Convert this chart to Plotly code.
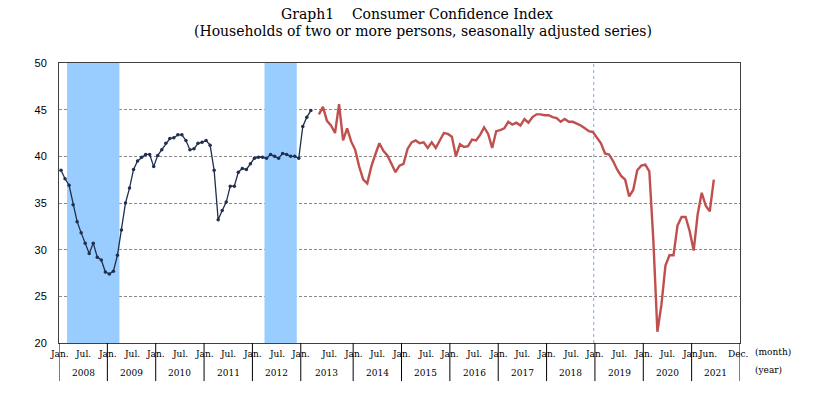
import plotly.graph_objects as go

# ---------------- data ----------------
years = list(range(2008, 2022))
old_start = (2008, 1)   # old survey method: Jan 2008 - Mar 2013
old_values = [
    38.5, 37.6, 36.9, 34.8, 33.0, 31.8, 30.7, 29.6, 30.7, 29.2, 28.9, 27.6,   # 2008
    27.4, 27.7, 29.4, 32.1, 35.0, 36.6, 38.6, 39.5, 39.9, 40.2, 40.2, 38.9,   # 2009
    40.1, 40.7, 41.4, 41.9, 42.0, 42.3, 42.3, 41.7, 40.7, 40.8, 41.4, 41.5,   # 2010
    41.7, 41.2, 38.5, 33.2, 34.2, 35.1, 36.8, 36.8, 38.3, 38.7, 38.6, 39.2,   # 2011
    39.8, 39.9, 39.9, 39.8, 40.2, 40.0, 39.8, 40.3, 40.2, 40.0, 40.0, 39.8,   # 2012
    43.2, 44.2, 44.9,                                                         # 2013
]
new_start = (2013, 4)   # new survey method: Apr 2013 - Jun 2021
new_values = [
    44.5, 45.3, 43.8, 43.3, 42.5, 45.6, 41.7, 43.0, 41.6,                     # 2013
    40.7, 38.9, 37.5, 37.1, 38.9, 40.2, 41.4, 40.6, 40.1, 39.2, 38.3, 39.0,   # 2014
    39.2, 40.8, 41.5, 41.7, 41.4, 41.5, 40.9, 41.5, 40.9, 41.7, 42.5, 42.4,   # 2015
    42.1, 40.0, 41.3, 41.0, 41.1, 41.8, 41.7, 42.3, 43.1, 42.4, 40.9, 42.7,   # 2016
    42.8, 43.0, 43.7, 43.4, 43.6, 43.3, 44.0, 43.6, 44.2, 44.5, 44.5, 44.4,   # 2017
    44.4, 44.2, 44.1, 43.7, 44.0, 43.7, 43.7, 43.5, 43.3, 43.0, 42.7, 42.6,   # 2018
    42.0, 41.4, 40.3, 40.2, 39.5, 38.6, 37.9, 37.5, 35.7, 36.4, 38.5, 39.0,   # 2019
    39.1, 38.4, 31.0, 21.2, 24.1, 28.3, 29.4, 29.4, 32.6, 33.5, 33.5, 32.0,   # 2020
    29.9, 33.8, 36.1, 34.7, 34.1, 37.5,                                       # 2021
]
recessions = [((2008, 3), (2009, 3)), ((2012, 4), (2012, 11))]
peak_line = (2018, 12)
month_labels = ["Jan.", "Jul."]
last_year_labels = ["Jan.", "Jun.", "Dec."]
title_1 = "Graph1" + "\u00a0" * 4 + "Consumer Confidence Index"
title_2 = "(Households of two or more persons, seasonally adjusted series)"

# ---------------- slot positions (2013 has an extra blank slot) ----------------
def slot(y, m):
    s = (y - 2008) * 12 + (m - 1)
    if y > 2013 or (y == 2013 and m >= 4):
        s += 1
    return s

def months_from(start, n):
    y, m = start
    out = []
    for _ in range(n):
        out.append((y, m))
        m += 1
        if m > 12:
            m = 1
            y += 1
    return out

x_old = [slot(y, m) + 0.5 for y, m in months_from(old_start, len(old_values))]
x_new = [slot(y, m) + 0.5 for y, m in months_from(new_start, len(new_values))]

year_edges = [slot(y, 1) for y in years] + [slot(2021, 12) + 1]
XMAX = year_edges[-1]

fig = go.Figure()

fig.add_trace(go.Scatter(
    x=x_old, y=old_values, mode="lines+markers",
    line=dict(color="#1f2f4d", width=1.3),
    marker=dict(color="#1f2f4d", size=3.5),
    hoverinfo="y", showlegend=False,
))
fig.add_trace(go.Scatter(
    x=x_new, y=new_values, mode="lines",
    line=dict(color="#c0504d", width=2.4),
    hoverinfo="y", showlegend=False,
))

shapes = []
for (a, b) in recessions:
    shapes.append(dict(type="rect", xref="x", yref="y",
                       x0=slot(*a), x1=slot(*b) + 1, y0=20, y1=50,
                       fillcolor="#99ccff", line=dict(width=0), layer="between"))
px = slot(*peak_line) + 0.7
shapes.append(dict(type="line", xref="x", yref="y", x0=px, x1=px, y0=20, y1=50,
                   line=dict(color="#7fa9e0", width=1, dash="dot"), layer="between"))
for e in year_edges:
    shapes.append(dict(type="line", xref="x", yref="paper", x0=e, x1=e,
                       y0=0, y1=-0.136, line=dict(color="black", width=1)))

FONT = "DejaVu Serif"
LF = dict(size=9, family=FONT, color="black")
ann = []
for i, yr in enumerate(years):
    s, e = year_edges[i], year_edges[i + 1]
    ann.append(dict(x=(s + e) / 2, y=-0.107, xref="x", yref="paper", text=str(yr),
                    showarrow=False, font=LF, xanchor="center", yanchor="middle"))
    if yr < 2021:
        jul_x = slot(yr, 7)
        for lab, xx in zip(month_labels, [s, jul_x]):
            ann.append(dict(x=xx, y=-0.039, xref="x", yref="paper", text=lab,
                            showarrow=False, font=LF, xanchor="center", yanchor="middle"))
    else:
        for lab, xx in zip(last_year_labels, [s, s + 4.0, e - 0.35]):
            ann.append(dict(x=xx, y=-0.039, xref="x", yref="paper", text=lab,
                            showarrow=False, font=LF, xanchor="center", yanchor="middle"))

ann.append(dict(x=1.019, y=-0.032, xref="paper", yref="paper", text="(month)",
                showarrow=False, font=LF, xanchor="left", yanchor="middle"))
ann.append(dict(x=1.019, y=-0.096, xref="paper", yref="paper", text="(year)",
                showarrow=False, font=LF, xanchor="left", yanchor="middle"))
TF = dict(size=14, family=FONT, color="black")
ann.append(dict(x=0.3245, y=1.175, xref="paper", yref="paper", text=title_1,
                showarrow=False, font=TF, xanchor="left", yanchor="middle", borderpad=0))
ann.append(dict(x=0.1968, y=1.116, xref="paper", yref="paper", text=title_2,
                showarrow=False, font=TF, xanchor="left", yanchor="middle", borderpad=0))

fig.update_layout(
    width=819, height=396,
    margin=dict(l=59, r=79, t=63, b=53),
    paper_bgcolor="white", plot_bgcolor="white",
    shapes=shapes, annotations=ann,
    xaxis=dict(range=[0, XMAX], showgrid=False, zeroline=False, showticklabels=False,
               ticks="", showline=True, linecolor="#404040", linewidth=1, mirror=True,
               fixedrange=True),
    yaxis=dict(range=[20, 50], tickvals=[20, 25, 30, 35, 40, 45, 50], showgrid=True,
               gridcolor="#8a8a8a", griddash="3px,2px", gridwidth=1, zeroline=False,
               showline=True, linecolor="#404040", linewidth=1, mirror=True,
               ticks="", ticklen=0, ticklabelstandoff=9,
               tickfont=dict(size=11, family="Liberation Sans", color="black"),
               fixedrange=True),
    showlegend=False,
)

# remove the browser's default 8px body margin so the figure fills the window
fig.write_html("out.html", config={"displayModeBar": False},
               post_script="document.body.style.margin='0';")
